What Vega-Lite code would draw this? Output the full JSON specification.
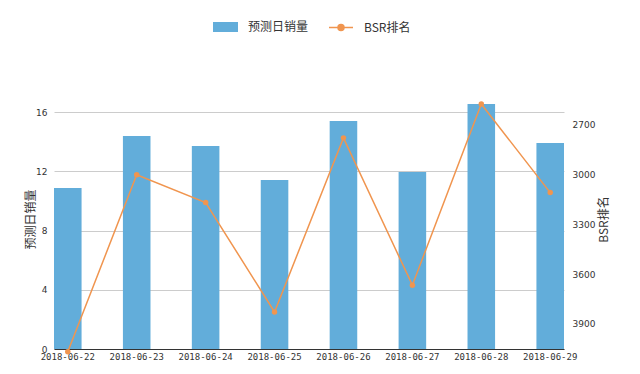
{
  "$schema": "https://vega.github.io/schema/vega-lite/v6.json",
  "width": 510,
  "height": 237,
  "autosize": {"type": "none"},
  "padding": {"left": 54, "top": 112, "right": 76, "bottom": 25},
  "background": "white",
  "config": {
    "view": {"stroke": null},
    "font": "Noto Sans CJK SC",
    "axis": {"labelColor": "#333", "titleColor": "#333", "titleFontWeight": "normal", "labelFontSize": 9, "titleFontSize": 12, "ticks": false, "gridColor": "#cccccc", "gridWidth": 1},
    "legend": {"labelFontSize": 12, "labelColor": "#333", "labelOffset": 10, "orient": "none"}
  },
  "data": {"values": [
    {"date": "2018-06-22", "sales": 10.87, "bsr": 4068},
    {"date": "2018-06-23", "sales": 14.38, "bsr": 3000},
    {"date": "2018-06-24", "sales": 13.70, "bsr": 3168},
    {"date": "2018-06-25", "sales": 11.41, "bsr": 3828},
    {"date": "2018-06-26", "sales": 15.40, "bsr": 2778},
    {"date": "2018-06-27", "sales": 11.95, "bsr": 3666},
    {"date": "2018-06-28", "sales": 16.54, "bsr": 2574},
    {"date": "2018-06-29", "sales": 13.90, "bsr": 3108}
  ]},
  "encoding": {
    "x": {
      "field": "date", "type": "ordinal",
      "scale": {"paddingInner": 0.6, "paddingOuter": 0},
      "axis": {"title": null, "labelAngle": 0, "labelFont": "DejaVu Sans Mono", "labelPadding": 3, "domainColor": "#333", "domainWidth": 1, "grid": false}
    }
  },
  "layer": [
    {
      "mark": {"type": "bar"},
      "encoding": {
        "y": {"field": "sales", "type": "quantitative", "scale": {"domain": [0, 16], "nice": false},
          "axis": {"title": "预测日销量", "values": [0, 4, 8, 12, 16], "domain": false, "labelPadding": 7, "titlePadding": -2, "titleY": 107, "labelFont": "DejaVu Sans"}},
        "fill": {"datum": "预测日销量", "scale": {"range": ["#62ADDA"]},
          "legend": {"title": null, "orient": "none", "legendX": 159, "legendY": -97.5, "symbolType": "M-1,-0.4H1V0.4H-1Z", "symbolSize": 625, "symbolStrokeWidth": 0}}
      }
    },
    {
      "layer": [
        {
          "mark": {"type": "line", "strokeWidth": 1.5, "clip": false},
          "encoding": {
            "y": {"field": "bsr", "type": "quantitative", "scale": {"domain": [2622, 4051], "reverse": true, "nice": false, "zero": false},
              "axis": {"title": "BSR排名", "orient": "right", "values": [2700, 3000, 3300, 3600, 3900], "format": "d", "grid": false, "domain": false, "labelPadding": 8, "titlePadding": 4, "titleAngle": 270, "titleBaseline": "top", "titleY": 107, "labelFont": "DejaVu Sans"}},
            "stroke": {"datum": "BSR排名", "scale": {"range": ["#F0954F"]},
              "legend": {"title": null, "orient": "none", "legendX": 274, "legendY": -97.5, "symbolType": "M-1,0H1M-0.25,0A0.25,0.25 0 1,1 0.25,0A0.25,0.25 0 1,1 -0.25,0", "symbolSize": 576, "symbolStrokeWidth": 1.5, "symbolFillColor": "#F0954F"}}
          }
        },
        {
          "mark": {"type": "circle", "size": 30, "color": "#F0954F", "opacity": 1, "clip": false},
          "encoding": {
            "y": {"field": "bsr", "type": "quantitative"}
          }
        }
      ]
    }
  ],
  "resolve": {"scale": {"y": "independent"}}
}
